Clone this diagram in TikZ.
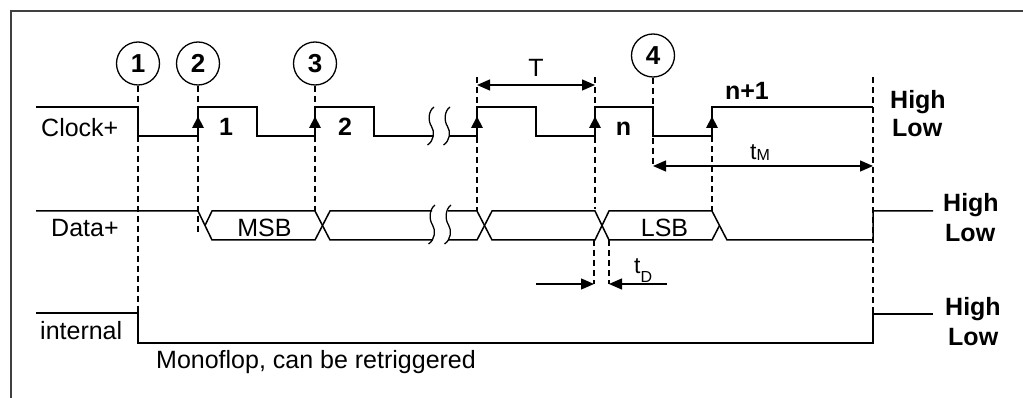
\documentclass[tikz,border=0pt]{standalone}
\usepackage{fontspec}
\setmainfont{Liberation Sans}
\usetikzlibrary{arrows.meta}
\tikzset{
  lbl/.style={font=\fontsize{25}{30}\selectfont, inner sep=0pt, anchor=base west},
  blbl/.style={font=\fontsize{25}{30}\selectfont\bfseries, inner sep=0pt, anchor=base west},
  cblbl/.style={font=\fontsize{25}{30}\selectfont\bfseries, inner sep=0pt, anchor=base},
  clbl/.style={font=\fontsize{25}{30}\selectfont, inner sep=0pt, anchor=base},
  sublbl/.style={font=\fontsize{23}{26}\selectfont, inner sep=0pt, anchor=base west},
  num/.style={circle, draw, line width=1.3pt, minimum size=43pt, inner sep=0pt, font=\fontsize{26}{30}\selectfont\bfseries},
  sig/.style={line width=1.5pt, line join=miter},
  guide/.style={line width=1.3pt, dash pattern=on 6pt off 4pt},
  dimline/.style={line width=1.3pt, {Triangle[length=13pt,width=11pt]}-{Triangle[length=13pt,width=11pt]}},
  dimr/.style={line width=1.3pt, -{Triangle[length=13pt,width=11pt]}},
  frame/.style={line width=1.7pt, draw=black!75},
  brk/.style={line width=1.3pt}
}
\newcommand{\uparrowmark}[1]{\fill (#1,116.5) -- ++(-6,11.5) -- ++(12,0) -- cycle;}
\newcommand{\squig}[3]{\draw[brk] (#1,#2) .. controls ({#1-6},{#2+0.11*(#3-#2)}) and ({#1-6},{#2+0.38*(#3-#2)}) .. ({#1-2.5},{#2+0.51*(#3-#2)}) .. controls ({#1+1},{#2+0.65*(#3-#2)}) and (#1,{#2+0.89*(#3-#2)}) .. ({#1-6.5},#3);}
\begin{document}
\begin{tikzpicture}[x=1pt, y=-1pt]
\useasboundingbox (0,0) rectangle (1023,398);
% frame
\draw[frame] (11,398) -- (11,11) -- (1023,11);

% numbered markers
\node[num] (c1) at (138,63.5) {1};
\node[num] (c2) at (198,63.5) {2};
\node[num] (c3) at (315,63.5) {3};
\node[num] (c4) at (653,55.5) {4};

% guide end points
\coordinate (g1) at (138,313);
\coordinate (g2) at (198,233);
\coordinate (g3) at (315,211);
\coordinate (g5a) at (477,77);
\coordinate (g5b) at (477,211);
\coordinate (g6a) at (595,77);
\coordinate (g6b) at (595,209);
\coordinate (g4) at (653,166);
\coordinate (g7a) at (712,136);
\coordinate (g7b) at (712,211);
\coordinate (g8a) at (873,77);
\coordinate (g8b) at (873,313);
\coordinate (d1a) at (594,240);
\coordinate (d1b) at (594,284);
\coordinate (d2a) at (609,240);
\coordinate (d2b) at (609,284);

% dashed guides
\draw[guide] (c1.south) -- (g1);
\draw[guide] (c2.south) -- (g2);
\draw[guide] (c3.south) -- (g3);
\draw[guide] (g5a) -- (g5b);
\draw[guide] (g6a) -- (g6b);
\draw[guide] (c4.south) -- (g4);
\draw[guide] (g7a) -- (g7b);
\draw[guide] (g8a) -- (g8b);
\draw[guide] (d1a) -- (d1b);
\draw[guide] (d2a) -- (d2b);

% clock
\draw[sig] (36,107) -- (138,107) -- (138,136) -- (198,136) -- (198,107) -- (257,107) -- (257,136)
  -- (315,136) -- (315,107) -- (374,107) -- (374,136) -- (432.5,136);
\draw[sig] (448.5,136) -- (477,136) -- (477,107) -- (536,107) -- (536,136) -- (595,136) -- (595,107)
  -- (653,107) -- (653,136) -- (712,136) -- (712,107) -- (873,107);
\squig{434}{107}{145}
\squig{450}{107}{145}
\uparrowmark{198}
\uparrowmark{315}
\uparrowmark{477}
\uparrowmark{595}
\uparrowmark{712}

% data
\draw[sig] (36,211) -- (198,211) -- (212,240) -- (315,240) -- (330,211) -- (432,211);
\draw[sig] (205,225.5) -- (212,211) -- (315,211) -- (330,240) -- (432,240);
\draw[sig] (448,211) -- (477,211) -- (492,240) -- (595,240) -- (609,211) -- (712,211) -- (727,240) -- (873,240) -- (873,211) -- (933,211);
\draw[sig] (448,240) -- (477,240) -- (492,211) -- (595,211) -- (609,240) -- (712,240) -- (719.5,225.5);
\squig{435}{205}{244}
\squig{451}{205}{244}

% internal
\draw[sig] (36,313) -- (138,313) -- (138,343) -- (873,343) -- (873,314) -- (933,314);

% dimension arrows
\draw[dimline] (g5a |- 0,85) -- (g6a |- 0,85);
\draw[dimline] (g4) -- (g8a |- g4);
\coordinate (tdl) at (536,284);
\coordinate (tdr) at (667,284);
\draw[dimr] (tdl) -- (d1b);
\draw[dimr] (tdr) -- (d2b);

% labels
\node[lbl] (lclk) at (41,137) {Clock+};
\node[lbl] (ldat) at (51,237) {Data+};
\node[lbl] (lint) at (40,339) {internal};
\node[lbl] (lmono) at (156,368) {Monoflop, can be retriggered};
\node[cblbl] (b1) at (226,136) {1};
\node[cblbl] (b2) at (345,136) {2};
\node[cblbl] (bn) at (623.5,136) {n};
\node[cblbl] (bn1) at (747,100) {n+1};
\node[clbl] (msb) at (264.5,237) {MSB};
\node[clbl] (lsb) at (664.5,237) {LSB};
\node[clbl] (tT) at (536,77) {T};
\node[sublbl] (tm) at (750,160) {t\raisebox{-1pt}{\fontsize{16}{16}\selectfont M}};
\node[sublbl] (td) at (634,273) {t\raisebox{-9pt}{\fontsize{16}{16}\selectfont D}};
\node[blbl] (ch) at (890,109) {High};
\node[blbl] (cl) at (892,137) {Low};
\node[blbl] (dh) at (943,212) {High};
\node[blbl] (dl) at (945,242) {Low};
\node[blbl] (ih) at (945,315) {High};
\node[blbl] (il) at (948,345) {Low};
\end{tikzpicture}
\end{document}
